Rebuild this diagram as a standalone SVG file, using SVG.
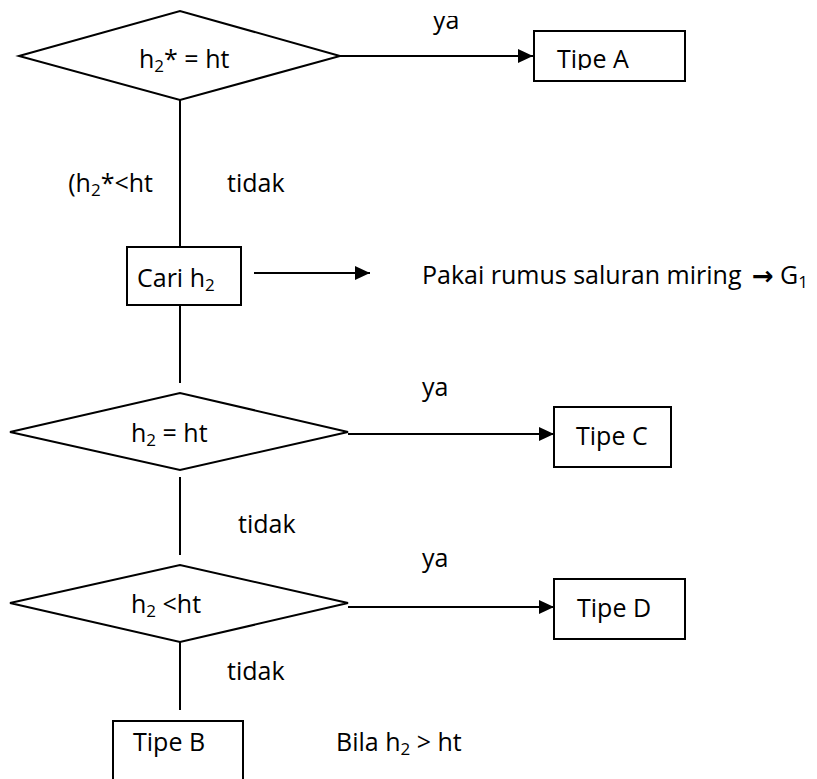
<svg xmlns="http://www.w3.org/2000/svg" width="817" height="779" viewBox="0 0 817 779">
<style>
text{font-family:"Open Sans","Noto Sans",sans-serif;font-size:25px;fill:#000}
.sub{font-size:17px}
.shape{fill:#fff;stroke:#000;stroke-width:2}
.line{fill:none;stroke:#000;stroke-width:2}
.arr{font-family:"DejaVu Sans",sans-serif;font-weight:bold;font-size:26px}
</style>
<defs>
<marker id="ah" markerUnits="userSpaceOnUse" markerWidth="16" markerHeight="14" refX="15" refY="7" orient="auto">
<path d="M0,0 L15,7 L0,14 z" fill="#000"/>
</marker>
<clipPath id="clipA"><rect x="0" y="0" width="817" height="70"/></clipPath>
<clipPath id="clipYa"><rect x="0" y="16" width="817" height="40"/></clipPath>
</defs>
<g id="connectors">
<line class="line" x1="340" y1="56" x2="533" y2="56" marker-end="url(#ah)"/>
<line class="line" x1="180" y1="100" x2="180" y2="247"/>
<line class="line" x1="254" y1="273" x2="370" y2="273" marker-end="url(#ah)"/>
<line class="line" x1="180" y1="305" x2="180" y2="383"/>
<line class="line" x1="348" y1="434" x2="554" y2="434" marker-end="url(#ah)"/>
<line class="line" x1="180" y1="477" x2="180" y2="555"/>
<line class="line" x1="348" y1="607" x2="554" y2="607" marker-end="url(#ah)"/>
<line class="line" x1="180" y1="642" x2="180" y2="710"/>
<text x="433" y="29" clip-path="url(#clipYa)">ya</text>
<text x="153" y="192" text-anchor="end">(h<tspan class="sub" dy="4">2</tspan><tspan dy="-4">*&lt;ht</tspan></text>
<text x="227" y="192">tidak</text>
<text x="422" y="396">ya</text>
<text x="238" y="533">tidak</text>
<text x="422" y="567">ya</text>
<text x="227" y="680">tidak</text>
</g>
<g id="d1">
<polygon class="shape" points="19,56 180,11 340,56 180,100"/>
<text x="139" y="68">h<tspan class="sub" dy="4">2</tspan><tspan dy="-4">* = ht</tspan></text>
</g>
<g id="tipeA">
<rect class="shape" x="534" y="31" width="151" height="50"/>
<text x="557" y="68" clip-path="url(#clipA)">Tipe A</text>
</g>
<g id="cari">
<rect class="shape" x="127" y="247" width="114" height="58"/>
<text x="137" y="287">Cari h<tspan class="sub" dy="4">2</tspan></text>
</g>
<g id="pakai">
<text x="422" y="284">Pakai rumus saluran miring</text>
<text class="arr" x="752" y="285">→</text>
<text x="780" y="284">G<tspan class="sub" dy="4">1</tspan></text>
</g>
<g id="d2">
<polygon class="shape" points="10,432 180,393 348,432 180,470"/>
<text x="131" y="442">h<tspan class="sub" dy="4">2</tspan><tspan dy="-4"> = ht</tspan></text>
</g>
<g id="tipeC">
<rect class="shape" x="554" y="407" width="117" height="60"/>
<text x="576" y="445">Tipe C</text>
</g>
<g id="d3">
<polygon class="shape" points="10,603 180,565 348,603 180,642"/>
<text x="131" y="613">h<tspan class="sub" dy="4">2</tspan><tspan dy="-4"> &lt;ht</tspan></text>
</g>
<g id="tipeD">
<rect class="shape" x="554" y="579" width="131" height="60"/>
<text x="577" y="617">Tipe D</text>
</g>
<g id="tipeB">
<rect class="shape" x="113" y="721" width="130" height="70"/>
<text x="133" y="751">Tipe B</text>
</g>
<g id="bila">
<text x="336" y="751">Bila h<tspan class="sub" dy="4">2</tspan><tspan dy="-4"> &gt; ht</tspan></text>
</g>
</svg>
